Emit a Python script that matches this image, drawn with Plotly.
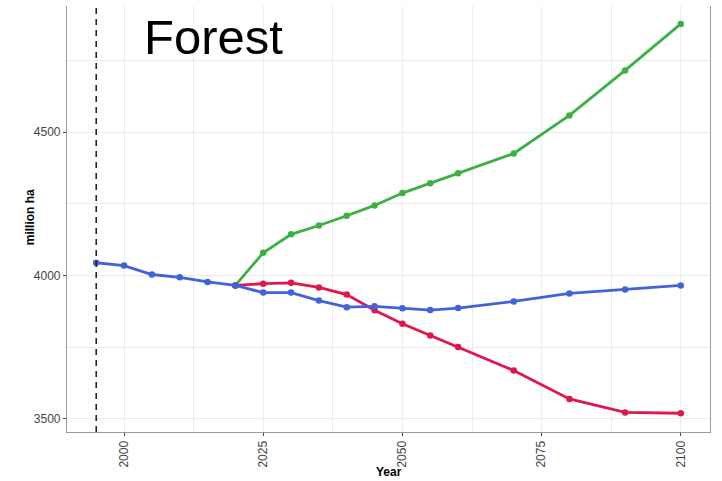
import plotly.graph_objects as go

years_hist = [1995, 2000, 2005, 2010, 2015, 2020]
years_proj = [2020, 2025, 2030, 2035, 2040, 2045, 2050, 2055, 2060, 2070, 2080, 2090, 2100]

blue_hist = [4044, 4034, 4003, 3993, 3977, 3965]
blue_proj = [3965, 3940, 3940, 3912, 3889, 3892, 3885, 3879, 3886, 3909, 3937, 3951, 3965]
green_proj = [3965, 4079, 4143, 4174, 4208, 4244, 4287, 4321, 4356, 4425, 4558, 4715, 4877]
red_proj = [3965, 3971, 3974, 3958, 3933, 3878, 3831, 3790, 3750, 3668, 3569, 3522, 3519]

blue_years = years_hist + years_proj[1:]
blue_vals = blue_hist + blue_proj[1:]

x_ticks = [2000, 2025, 2050, 2075, 2100]
y_ticks = [3500, 4000, 4500]

BLUE = "#4263d8"
GREEN = "#3cb043"
RED = "#e0174f"

fig = go.Figure()

def add_series(xs, ys, color):
    fig.add_trace(go.Scatter(
        x=xs, y=ys, mode="lines+markers",
        line=dict(color=color, width=2.8),
        marker=dict(color=color, size=6.5),
        showlegend=False, hoverinfo="skip"))

add_series(years_proj, green_proj, GREEN)
add_series(years_proj, red_proj, RED)
add_series(blue_years, blue_vals, BLUE)

fig.add_vline(x=1995, line=dict(color="#222222", width=1.6, dash="6px,5px"), layer="above")

fig.add_annotation(x=2016, y=4830, text="Forest", showarrow=False,
                   font=dict(family="Liberation Sans, Arial", size=49, color="#000000"),
                   xanchor="center", yanchor="middle")

fig.add_annotation(xref="paper", yref="paper", x=0.5, y=-0.095, text="<b>Year</b>",
                   showarrow=False, xanchor="center", yanchor="middle",
                   font=dict(family="Liberation Sans, Arial", size=12, color="#000000"))
fig.add_annotation(xref="paper", yref="paper", x=-0.057, y=0.505, text="<b>million ha</b>",
                   showarrow=False, xanchor="center", yanchor="middle", textangle=-90,
                   font=dict(family="Liberation Sans, Arial", size=12, color="#000000"))

axis_font = dict(family="Liberation Sans, Arial", size=12, color="#444444")
grid = "#ebebeb"

fig.update_layout(
    width=722, height=481,
    margin=dict(l=67, r=12, t=6, b=49),
    paper_bgcolor="white", plot_bgcolor="white",
    font=dict(family="Liberation Sans, Arial"),
    xaxis=dict(
        range=[1989.75, 2105.25], tickvals=x_ticks, ticktext=[str(v) for v in x_ticks],
        tickangle=-90, tickfont=axis_font, automargin=False,
        showgrid=True, gridcolor=grid, gridwidth=1,
        minor=dict(tickvals=[2012.5, 2037.5, 2062.5, 2087.5], showgrid=True, gridcolor=grid, gridwidth=0.7),
        showline=True, linecolor="#9a9a9a", linewidth=1.2,
        ticks="outside", ticklen=3, tickcolor="#444444",
        zeroline=False,
    ),
    yaxis=dict(
        range=[3453.6, 4939.6], tickvals=y_ticks, ticktext=[str(v) for v in y_ticks],
        tickfont=axis_font, automargin=False,
        showgrid=True, gridcolor=grid, gridwidth=1,
        minor=dict(tickvals=[3750, 4250, 4750], showgrid=True, gridcolor=grid, gridwidth=0.7),
        showline=True, mirror=True, linecolor="#9a9a9a", linewidth=1.2,
        ticks="outside", ticklen=3, tickcolor="#444444",
        zeroline=False,
    ),
)

fig.write_html("out.html", config={"displayModeBar": False},
               post_script="document.body.style.margin='0px';")
